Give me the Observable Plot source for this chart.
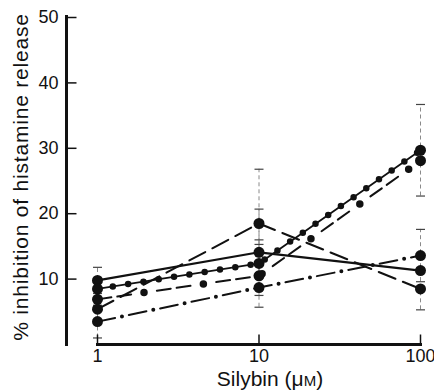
<!DOCTYPE html>
<html>
<head>
<meta charset="utf-8">
<script src="https://cdn.jsdelivr.net/npm/d3@7"></script>
<script src="https://cdn.jsdelivr.net/npm/@observablehq/plot@0.6"></script>
<style>
  html, body { margin: 0; padding: 0; background: #fff; }
  svg { font-family: "Liberation Sans", Arial, Helvetica, sans-serif; }
</style>
</head>
<body>
<div id="chart"></div>
<script>
// Silybin concentrations (µM)
const concentrations = [1, 10, 100];
const xTicks = [1, 10, 100];
const yTicks = [10, 20, 30, 40, 50];

// % inhibition of histamine release, one array per curve
const seriesSolid    = [9.8, 14.1, 11.3];
const seriesDotted   = [8.5, 12.4, 29.7];
const seriesDashDots = [6.9, 10.5, 28.1];
const seriesDashed   = [5.4, 18.5, 8.5];
const seriesDashDot  = [3.5, 8.7, 13.6];

// error (± SEM) for each point, 0 = not shown
const errSolid    = [2.0, 6.6, 0];
const errDotted   = [0, 3.6, 7.0];
const errDashDots = [0, 4.8, 0];
const errDashed   = [0, 8.3, 3.2];
const errDashDot  = [2.5, 0, 4.0];

const names = ["solid", "dotted", "dashdots", "dashed", "dashdot"];
const values = [seriesSolid, seriesDotted, seriesDashDots, seriesDashed, seriesDashDot];
const errors = [errSolid, errDotted, errDashDots, errDashed, errDashDot];

const rows = [];
names.forEach((s, k) => concentrations.forEach((c, i) =>
  rows.push({series: s, x: c, y: values[k][i], e: errors[k][i]})));
const errRows = rows.filter(d => d.e > 0);
const capRows = errRows.flatMap(d => [{x: d.x, y: d.y + d.e}, {x: d.x, y: d.y - d.e}]);
const axisRows = xTicks.map(t => ({x: t, y: 0}));

const hLine = {draw(ctx, size) { const w = Math.sqrt(size / Math.PI); ctx.moveTo(-w, 0); ctx.lineTo(w, 0); }};
const vLine = {draw(ctx, size) { const w = Math.sqrt(size / Math.PI); ctx.moveTo(0, -w); ctx.lineTo(0, w); }};

const ink = "#111";
const of = s => rows.filter(d => d.series === s);

const chart = Plot.plot({
  width: 434,
  height: 390,
  marginLeft: 66,
  marginRight: 14,
  marginTop: 16,
  marginBottom: 46,
  x: {type: "log", domain: [1, 100], range: [97, 420], axis: null},
  y: {domain: [0, 50], range: [344, 17], axis: null},
  marks: [
    // error bars
    Plot.ruleX(errRows, {x: "x", y1: d => d.y - d.e, y2: d => d.y + d.e, stroke: "#8a8a8a", strokeWidth: 1, strokeDasharray: "4,3"}),
    Plot.dot(capRows, {x: "x", y: "y", symbol: hLine, r: 4.5, stroke: "#444", strokeWidth: 1.2}),
    // curves
    Plot.line(of("solid"), {x: "x", y: "y", stroke: ink, strokeWidth: 2.2}),
    Plot.line(of("dotted"), {x: "x", y: "y", stroke: ink, strokeWidth: 1.8}),
    Plot.line(of("dotted"), {x: "x", y: "y", stroke: ink, strokeWidth: 6.5, strokeLinecap: "round", strokeDasharray: "0,15.5"}),
    Plot.line(of("dashdots"), {x: "x", y: "y", stroke: ink, strokeWidth: 2, strokeDasharray: "14,6,14,26"}),
    Plot.line(of("dashdots"), {x: "x", y: "y", stroke: ink, strokeWidth: 7.5, strokeLinecap: "round", strokeDasharray: "0,60", strokeDashoffset: -47}),
    Plot.line(of("dashed"), {x: "x", y: "y", stroke: ink, strokeWidth: 2, strokeDasharray: "18,8"}),
    Plot.line(of("dashdot"), {x: "x", y: "y", stroke: ink, strokeWidth: 2, strokeDasharray: "18,14"}),
    Plot.line(of("dashdot"), {x: "x", y: "y", stroke: ink, strokeWidth: 4, strokeLinecap: "round", strokeDasharray: "0,32", strokeDashoffset: -25}),
    Plot.dot(rows, {x: "x", y: "y", r: 5.5, fill: ink}),
    // axes
    Plot.ruleY([0], {x1: xTicks[0], x2: xTicks[xTicks.length - 1], stroke: ink, strokeWidth: 3}),
    Plot.frame({anchor: "bottom", insetLeft: 31, stroke: ink, strokeWidth: 3}),
    Plot.dot(axisRows, {x: "x", y: "y", symbol: vLine, r: 5, dy: -5, stroke: ink, strokeWidth: 1.5}),
    Plot.axisX({ticks: xTicks, tickSize: 0, tickPadding: 5, tickFormat: d => String(d), fontSize: 18, fill: ink, label: null}),
    Plot.frame({anchor: "left", stroke: ink, strokeWidth: 3}),
    Plot.axisY({ticks: yTicks, anchor: "left", tickSize: 0, tickPadding: 8, fontSize: 18, fill: ink, label: null}),
    Plot.dot(yTicks, {y: d => d, frameAnchor: "left", symbol: hLine, r: 5, dx: 5, stroke: ink, strokeWidth: 1.5})
  ]
});
chart.style.fontFamily = "'Liberation Sans', Arial, sans-serif";
chart.style.background = "#fff";

const svg = d3.select(chart);
svg.append("text")
  .attr("transform", "translate(22,177) rotate(-90)")
  .attr("text-anchor", "middle")
  .attr("dominant-baseline", "middle")
  .attr("font-size", 21)
  .attr("letter-spacing", 0.8)
  .attr("fill", ink)
  .text("% inhibition of histamine release");
const xt = svg.append("text")
  .attr("x", 270).attr("y", 386)
  .attr("text-anchor", "middle")
  .attr("font-size", 21)
  .attr("fill", ink)
  .text("Silybin (μ");
xt.append("tspan").attr("font-size", 15).text("M");
xt.append("tspan").text(")");

document.getElementById("chart").appendChild(chart);
</script>
</body>
</html>
